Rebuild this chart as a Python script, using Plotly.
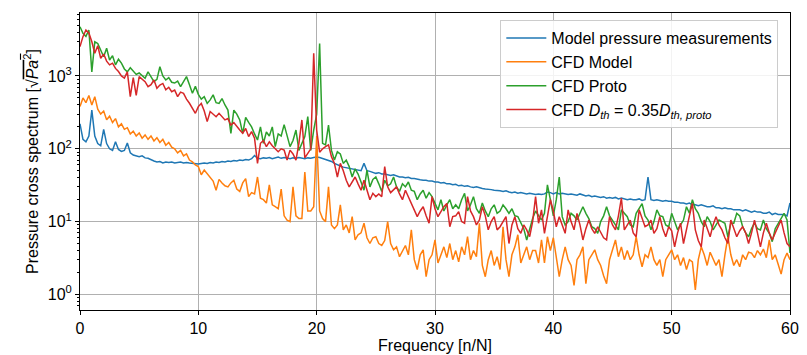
import plotly.graph_objects as go

FREQ_STEP = 0.25
N_POINTS = 241
freqs = [i * FREQ_STEP for i in range(N_POINTS)]

# Model pressure measurements (f = 0 .. 60 in steps of 0.25)
measured = (
    [220, 135, 125, 150, 340, 150, 118, 110, 185, 118, 100, 95, 125, 98, 92, 95, 120, 88, 82, 80]
    + [78, 80, 75, 74, 70, 68, 66, 67, 64, 66, 65, 66, 64, 65, 66, 64, 65, 64, 63, 62]
    + [62, 63, 64, 63, 65, 64, 66, 65, 67, 66, 68, 67, 69, 68, 70, 69, 71, 70, 73, 81]
    + [74, 73, 75, 74, 76, 73, 75, 77, 74, 76, 75, 73, 75, 74, 76, 74, 73, 75, 74, 76]
    + [77, 76, 74, 71, 70, 67, 63, 60, 58, 56, 55, 54, 53, 52, 51, 50, 63, 50, 49, 48]
    + [46, 47, 45, 45, 44, 43, 44, 42, 41, 41, 40, 40.5, 39, 39, 38, 37.5, 37, 37, 36, 36]
    + [35, 35, 34, 34.5, 33, 33, 32, 32.5, 31, 31.5, 30.5, 31, 30, 29.5, 30, 29, 28.5, 28, 28, 27.5]
    + [27, 27, 26.5, 26, 26.5, 25.5, 25, 25.5, 24.5, 25, 24.5, 24, 24.5, 24, 23.5, 24, 23.5, 24, 25.5, 25]
    + [24, 25, 24, 24.5, 24, 23.5, 24, 23.5, 23, 24, 23, 22.5, 23, 22, 22.5, 22, 21.5, 22, 21, 21.5]
    + [21, 21.5, 20.5, 21, 20.5, 20, 20.5, 20, 20, 20.5, 19.5, 20, 41, 20, 19.5, 20, 19.5, 19, 19.5, 19]
    + [19, 18.5, 18.5, 18, 18, 17.5, 18, 17, 17, 16.5, 17, 16.5, 16, 16, 16.5, 15.5, 15.5, 15, 15.5, 15]
    + [15, 14.5, 14.5, 14.5, 14, 14.5, 14, 13.5, 14, 13.5, 13.5, 13, 13, 13.5, 12.5, 13, 12.5, 12.5, 12.5, 12]
    + [18]
)

cfd_model = (
    [380, 500, 430, 540, 400, 520, 350, 300, 330, 250, 280, 230, 260, 200, 220, 185, 195, 160, 175, 150]
    + [165, 140, 155, 135, 150, 128, 142, 122, 135, 112, 122, 105, 100, 88, 95, 80, 85, 70, 66, 60]
    + [57, 44, 51, 45, 40, 36, 27, 38, 34, 31, 30, 34, 37, 28, 26, 34, 39, 22, 25, 24]
    + [41, 21, 20, 18, 32, 17, 16, 15, 28, 12, 10.5, 10, 30, 12, 11, 11, 48, 14, 14, 16]
    + [150, 14, 11, 10, 30, 9, 8, 9, 17, 7.7, 9, 7, 11.7, 5.6, 6.6, 7, 9.5, 6, 5, 6]
    + [6.2, 5, 4.7, 5.5, 10, 5, 4.1, 4.5, 3.3, 4, 4.7, 3.5, 7.7, 3, 2.2, 3.5, 4.1, 1.75, 3, 3.5]
    + [5.6, 2.7, 3.5, 4.5, 3.2, 5, 3, 4, 2.8, 4.5, 3.5, 6.2, 3, 4, 3.3, 9.5, 2.5, 1.75, 3, 4]
    + [2.5, 3.3, 2.2, 8.5, 3, 1.75, 3.5, 4.5, 6.6, 2.7, 3.5, 4.5, 3, 4, 4, 2.7, 5.6, 2.7, 6.2, 4]
    + [6, 3, 1.75, 3, 4.5, 3, 2.5, 1.33, 3, 3.5, 4.5, 1.4, 3, 3.5, 4.1, 3, 2.5, 1.8, 1.4, 3]
    + [4, 5.6, 3.3, 4.5, 3, 4, 3, 3.5, 6.2, 3.5, 2.4, 3.5, 3.2, 4.5, 3, 2.5, 3, 1.75, 3, 3.5]
    + [4.1, 3, 3.5, 2.5, 3.2, 2.2, 3, 2.8, 1.15, 3, 4.5, 3.5, 2.5, 3.8, 3, 2.5, 3, 1.75, 3.5, 6.2]
    + [3.5, 2.5, 3, 2.4, 3.5, 3, 3.8, 3.7, 3.2, 4, 3.5, 4.2, 3.2, 5.6, 3, 3.5, 2.6, 1.9, 3, 3.7]
    + [3.0]
)

cfd_proto = (
    [4750, 3850, 3500, 4280, 1140, 2950, 2800, 2300, 1840, 2400, 1660, 1900, 1420, 1700, 1500, 1250, 1140, 1300, 1150, 1050]
    + [1100, 1000, 929, 1140, 980, 835, 900, 1340, 1000, 880, 950, 820, 800, 850, 713, 840, 980, 760, 580, 720]
    + [560, 480, 520, 420, 470, 550, 430, 420, 490, 400, 340, 163, 340, 300, 249, 163, 270, 230, 200, 160]
    + [132, 200, 119, 170, 150, 200, 107, 160, 150, 215, 150, 107, 130, 181, 95, 120, 147, 276, 95, 181]
    + [300, 2800, 119, 113, 212, 95, 70, 91, 85, 63, 70, 57, 41, 53, 45, 35, 27, 51, 30, 38]
    + [41, 33, 26, 37, 31, 33, 41, 30, 26, 33, 30, 35, 27, 26, 20, 24, 27, 21, 25, 22]
    + [18, 14.5, 20, 14, 17, 20, 15, 17, 15, 20, 24.5, 14, 17, 22, 15, 13, 18, 14, 11.7, 15]
    + [17, 13, 14, 17, 15, 13, 15, 12, 11.7, 9.5, 8, 5.6, 8, 11, 14, 12, 10.5, 13, 32, 20]
    + [12, 20, 41, 11.7, 9, 10, 13, 12, 10.5, 13, 16, 13, 11, 8.5, 8, 6.9, 10, 12, 16, 12]
    + [10.5, 9, 7.7, 14.5, 13, 11.7, 9, 8.5, 13, 15, 17.6, 12, 10.5, 7.7, 10, 14.5, 12, 11.7, 9, 8.5]
    + [13, 10, 7.7, 9, 10.5, 16, 13, 20, 15, 13, 10, 8.5, 11.7, 10, 7.7, 9, 10.5, 10, 9.5, 6.2]
    + [9.5, 9.5, 13, 12, 8.5, 7, 6.2, 8, 9.5, 8, 7.7, 10.5, 8, 6.9, 5.3, 8, 9.5, 11, 13, 10.5]
    + [3.7]
)

cfd_dth = (
    [2530, 3470, 4280, 3900, 2950, 2050, 2600, 1750, 2000, 1600, 1420, 1500, 1270, 1150, 1000, 935, 1140, 520, 950, 540]
    + [980, 900, 835, 713, 760, 881, 676, 750, 790, 645, 700, 608, 640, 520, 600, 578, 480, 422, 360, 307]
    + [380, 420, 330, 236, 325, 300, 276, 307, 280, 249, 260, 212, 230, 200, 181, 163, 190, 147, 172, 140]
    + [63, 119, 130, 107, 125, 110, 101, 91, 100, 96, 70, 96, 85, 70, 119, 249, 75, 87, 100, 2050]
    + [181, 90, 100, 107, 113, 78, 63, 41, 63, 50, 37, 30, 35, 41, 33, 27, 37, 28, 20, 24.5]
    + [22, 24, 22, 57, 30, 25, 27, 30, 24, 20, 27, 22, 17.8, 15, 11.7, 14, 16, 12, 9.5, 22]
    + [15, 11.7, 14, 16, 17.8, 8.5, 11.7, 12, 13.7, 10, 9.5, 22, 14, 11.7, 9, 10.5, 16, 12, 7.7, 10]
    + [11.7, 7.7, 8.5, 10, 11.7, 5.0, 9, 11.7, 8, 6.9, 9, 7.7, 6.2, 10, 22, 9.5, 14.5, 6.9, 11.7, 20]
    + [14, 8.5, 11.7, 9, 6.9, 14.5, 10, 7.7, 13, 9, 5.6, 8, 10.5, 8, 6.9, 8.5, 7, 6, 5.6, 11.7]
    + [9, 7.7, 12, 21, 7.7, 9, 10.5, 7, 6.2, 14.5, 11, 8.5, 9, 10.5, 6.9, 8, 11.7, 8, 6.2, 8.5]
    + [7.5, 4.5, 7, 9.5, 5.0, 8, 12, 17.8, 7.7, 5.5, 4.5, 10.5, 8, 6.2, 9, 11.7, 9, 7.7, 6, 5.0]
    + [10.5, 8, 6.2, 7.5, 8.5, 7, 5.0, 7, 10.5, 7, 4.5, 7, 9.5, 7, 5.6, 7, 8.5, 10.5, 7, 5.0]
    + [4.5]
)

series_names = [
    "Model pressure measurements",
    "CFD Model",
    "CFD Proto",
    "CFD <i>D<sub>th</sub></i> = 0.35<i>D<sub>th, proto</sub></i>",
]
series_colors = ["#1f77b4", "#ff7f0e", "#2ca02c", "#d62728"]
series_values = [measured, cfd_model, cfd_proto, cfd_dth]

x_ticks = [0, 10, 20, 30, 40, 50, 60]
y_tick_vals = [1, 10, 100, 1000]
y_tick_text = ["10<sup>0</sup>", "10<sup>1</sup>", "10<sup>2</sup>", "10<sup>3</sup>"]
y_minor_vals = [m * d for d in [0.1, 1, 10, 100, 1000] for m in range(2, 10)]

FONT = "Liberation Sans, Arial, sans-serif"

fig = go.Figure()
for name, color, vals in zip(series_names, series_colors, series_values):
    fig.add_trace(go.Scatter(x=freqs, y=vals, mode="lines", name=name,
                             line=dict(color=color, width=1.5)))

axis_common = dict(
    showline=True, linecolor="black", linewidth=1, mirror=True,
    ticks="outside", ticklen=4, tickwidth=1, tickcolor="black",
    showgrid=True, gridcolor="#b0b0b0", gridwidth=0.8, zeroline=False,
    tickfont=dict(family=FONT, size=16, color="black"),
    automargin=False,
)

fig.update_layout(
    width=807, height=355,
    margin=dict(l=80, r=17, t=13, b=45),
    paper_bgcolor="white", plot_bgcolor="white",
    font=dict(family=FONT, size=16, color="black"),
    xaxis=dict(range=[0, 60], tickvals=x_ticks,
               title=dict(text="Frequency [n/N]", font=dict(size=16), standoff=1),
               **axis_common),
    yaxis=dict(type="log", range=[-0.214, 3.865], tickvals=y_tick_vals, ticktext=y_tick_text,
               minor=dict(tickvals=y_minor_vals, ticks="outside", ticklen=2, tickcolor="black",
                          showgrid=False),
               title=dict(text="Pressure cross spectrum [√<span style='text-decoration:overline'><i>Pa</i><sup>2</sup></span>]",
                          font=dict(size=16), standoff=5),
               **axis_common),
    legend=dict(x=0.592, y=0.976, xanchor="left", yanchor="top",
                bgcolor="rgba(255,255,255,0.85)", bordercolor="#cccccc", borderwidth=1,
                font=dict(family=FONT, size=16), tracegroupgap=0, itemwidth=40),
    showlegend=True,
)

fig.write_html("out.html", config={"displayModeBar": False},
               post_script="document.body.style.margin='0';")
